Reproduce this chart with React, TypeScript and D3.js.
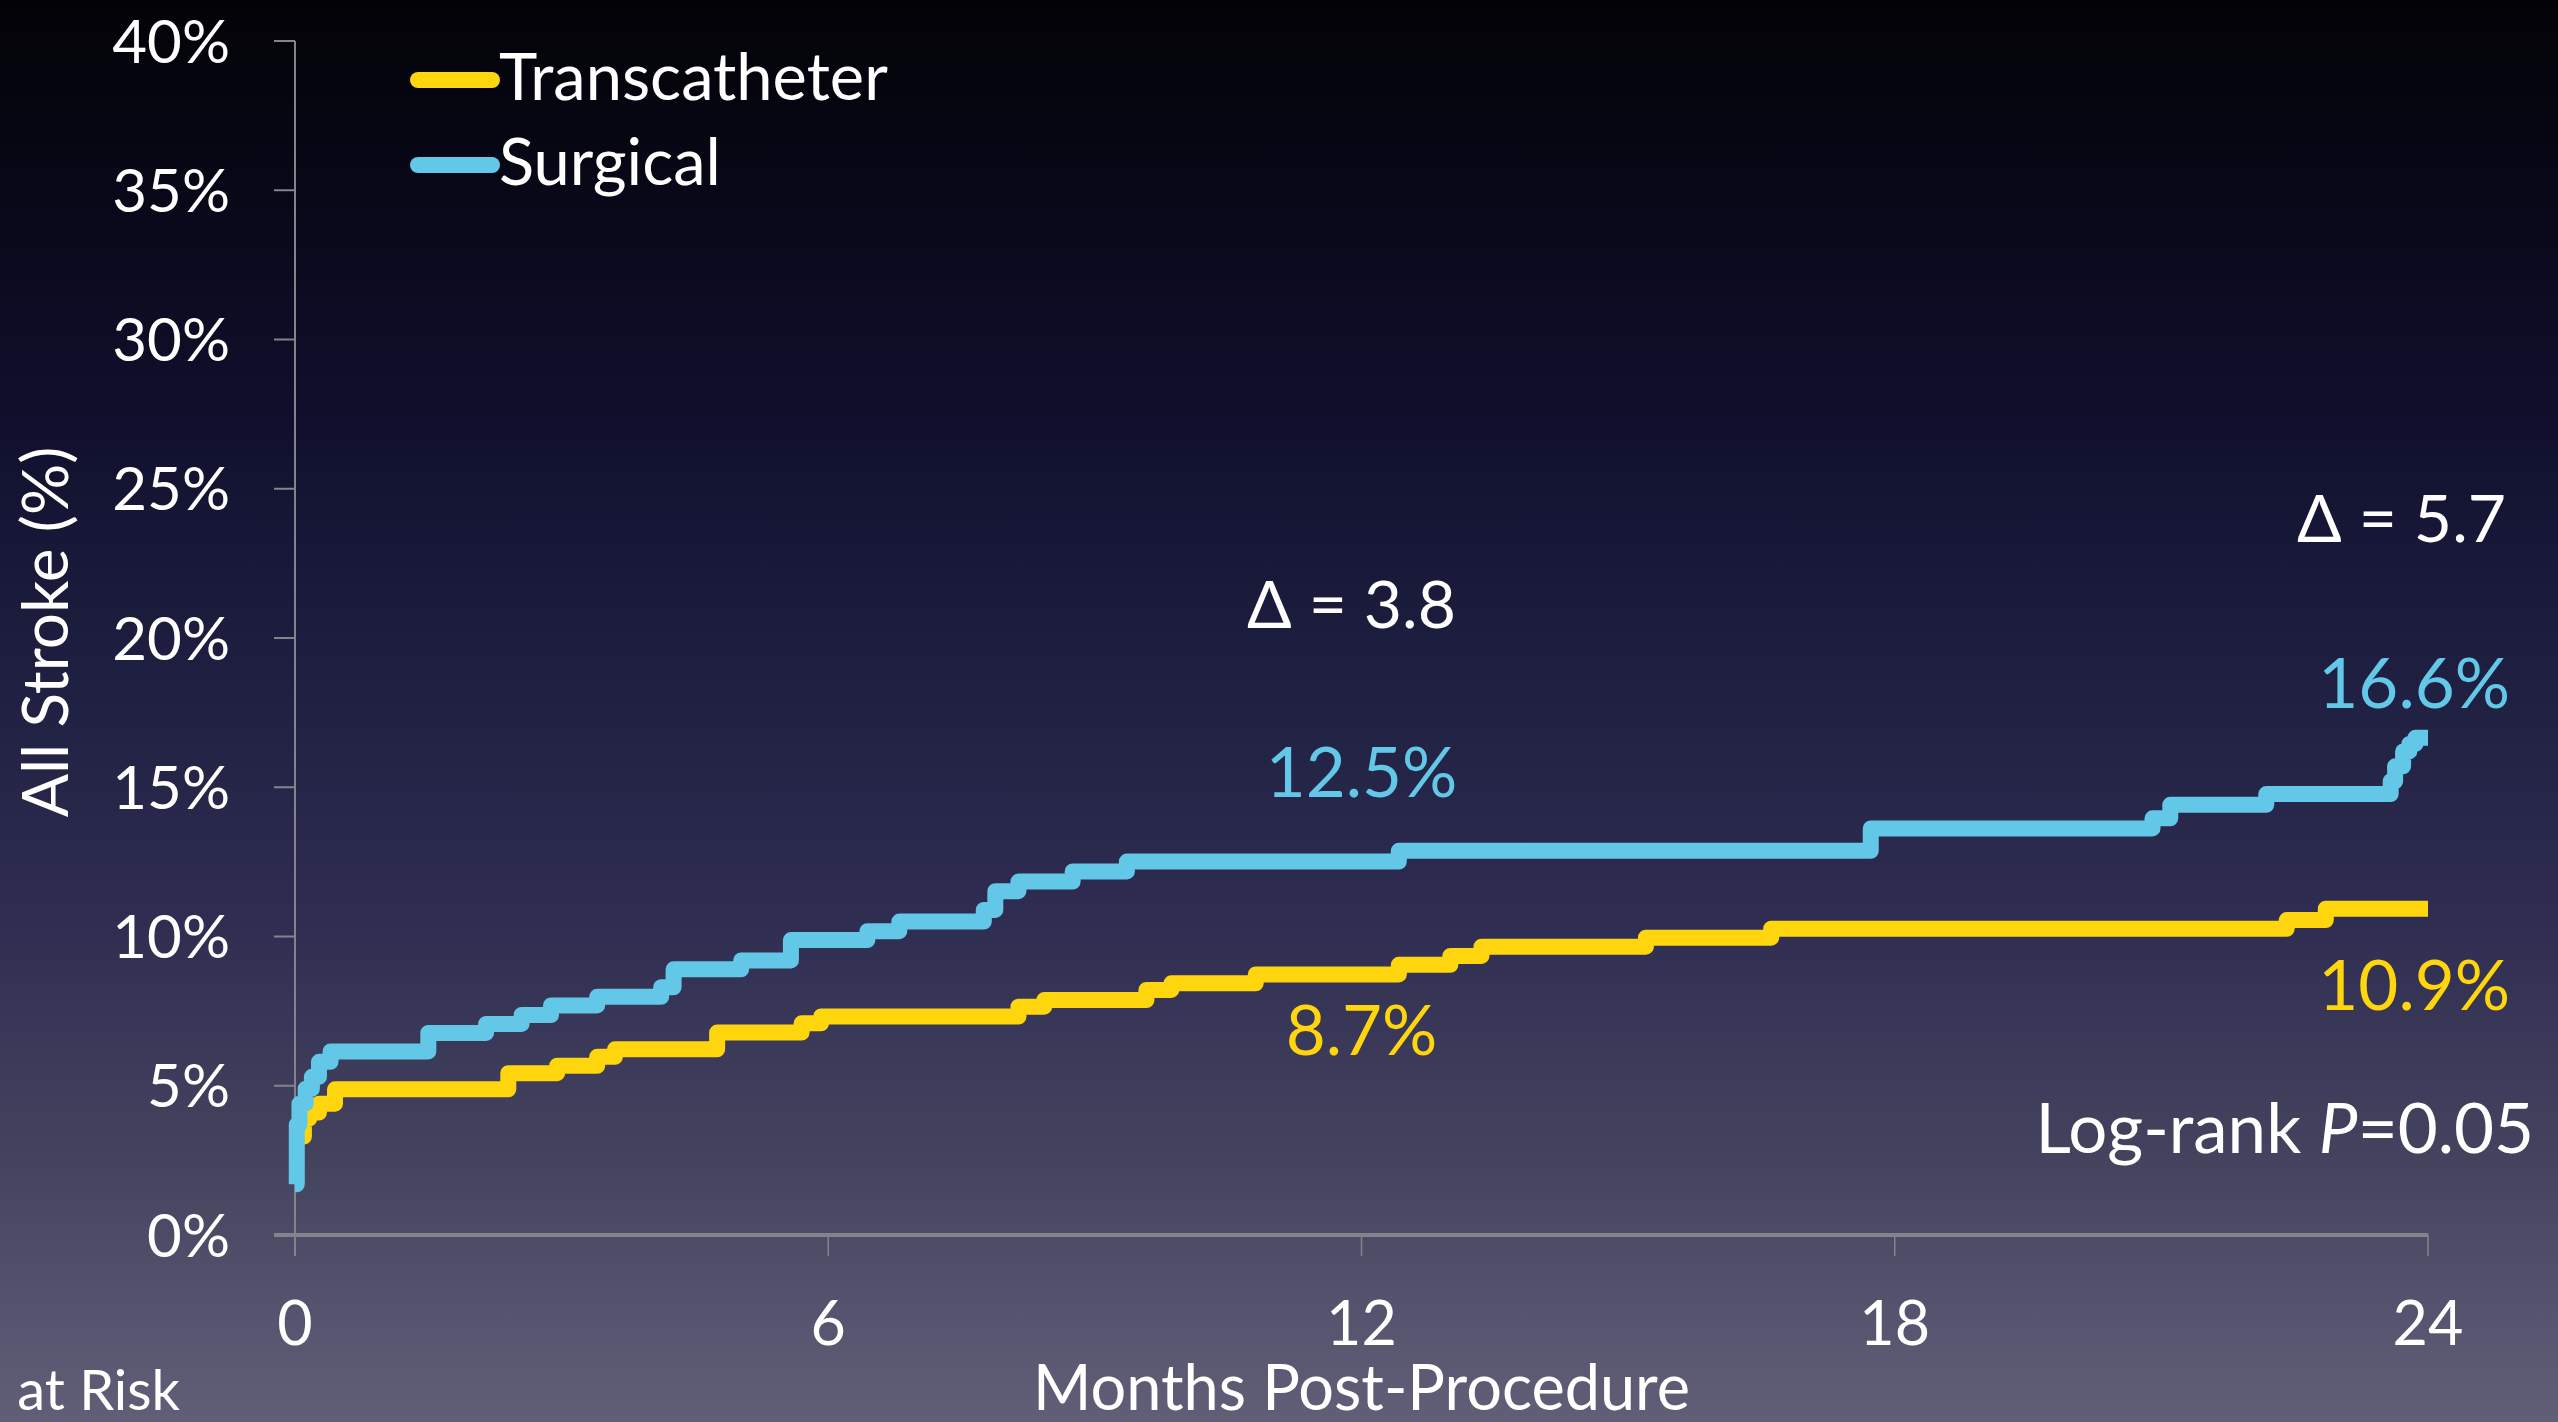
import * as d3 from 'd3'

// Kaplan-Meier style step data (months, cumulative % stroke)
const transcatheterMonths = [0, 0.1, 0.16, 0.27, 0.45, 2.4, 2.95, 3.4, 3.6, 4.75, 5.7, 5.92, 8.14, 8.43, 9.58, 9.86, 10.81, 12.42, 13.0, 13.35, 15.2, 16.61, 22.41, 22.85, 24]
const transcatheterRisk = [3.3, 3.9, 4.1, 4.4, 4.88, 5.42, 5.67, 5.97, 6.22, 6.78, 7.09, 7.32, 7.65, 7.87, 8.21, 8.43, 8.73, 9.05, 9.35, 9.66, 9.96, 10.26, 10.55, 10.93, 10.93]

const surgicalMonths = [0, 0.02, 0.05, 0.12, 0.19, 0.27, 0.4, 1.5, 2.15, 2.55, 2.88, 3.4, 4.12, 4.26, 5.02, 5.58, 6.44, 6.8, 7.75, 7.88, 8.14, 8.75, 9.36, 12.42, 17.73, 20.9, 21.1, 22.18, 23.58, 23.63, 23.72, 23.79, 23.86, 24]
const surgicalRisk = [1.7, 3.7, 4.4, 4.9, 5.3, 5.8, 6.15, 6.77, 7.07, 7.37, 7.69, 7.98, 8.3, 8.9, 9.2, 9.88, 10.18, 10.5, 10.89, 11.52, 11.84, 12.18, 12.51, 12.87, 13.62, 13.96, 14.41, 14.77, 15.2, 15.7, 16.2, 16.45, 16.66, 16.66]

const yTicks = [0, 5, 10, 15, 20, 25, 30, 35, 40]
const xTicks = [0, 6, 12, 18, 24]
const seriesNames = ['Transcatheter', 'Surgical']
const seriesColors = ['#FFD60E', '#63C8E7']

const W = 2558
const H = 1422
const FONT = 'Lato, "Open Sans", sans-serif'
const LABEL_SIZE = 63
const NOTE_SIZE = 69

export default function App() {
  const x = d3.scaleLinear().domain([0, 24]).range([295, 2428])
  const y = d3.scaleLinear().domain([0, 40]).range([1235, 41])

  const line = d3.line<[number, number]>()
    .x(d => x(d[0]))
    .y(d => y(d[1]))
    .curve(d3.curveStepAfter)

  const tavr = transcatheterMonths.map((m, i) => [m, transcatheterRisk[i]] as [number, number])
  const savr = surgicalMonths.map((m, i) => [m, surgicalRisk[i]] as [number, number])

  const axisColor = '#84838c'

  return (
    <div style={{ position: 'absolute', left: 0, top: 0 }}>
      <svg width={W} height={H} style={{ display: 'block' }}>
        <defs>
          <linearGradient id="bg" x1="0" y1="0" x2="0" y2="1">
            <stop offset="0" stopColor="#030307" />
            <stop offset="0.12" stopColor="#070716" />
            <stop offset="0.3" stopColor="#10102e" />
            <stop offset="0.5" stopColor="#212144" />
            <stop offset="0.65" stopColor="#2f2e52" />
            <stop offset="0.82" stopColor="#45445f" />
            <stop offset="1" stopColor="#615f78" />
          </linearGradient>
        </defs>
        <rect x={0} y={0} width={W} height={H} fill="url(#bg)" />

        {/* y axis */}
        <line x1={x(0)} x2={x(0)} y1={y(40)} y2={y(0) + 21} stroke={axisColor} strokeWidth={2} />
        {yTicks.map(t => (
          <g key={'y' + t}>
            <line x1={x(0) - 21} x2={x(0)} y1={y(t)} y2={y(t)} stroke={axisColor} strokeWidth={2} />
            <text x={230} y={y(t)} dy="0.36em" textAnchor="end" fill="#fff" fontFamily={FONT} fontSize={60}>
              {t + '%'}
            </text>
          </g>
        ))}

        {/* x axis */}
        <line x1={x(0) - 21} x2={x(24)} y1={y(0)} y2={y(0)} stroke={axisColor} strokeWidth={4} />
        {xTicks.map(t => (
          <g key={'x' + t}>
            <line x1={x(t)} x2={x(t)} y1={y(0)} y2={y(0) + 21} stroke={axisColor} strokeWidth={1.5} />
            <text x={x(t)} y={1345} textAnchor="middle" fill="#fff" fontFamily={FONT} fontSize={61}>
              {t}
            </text>
          </g>
        ))}

        <text x={(x(0) + x(24)) / 2} y={1410} textAnchor="middle" fill="#fff" fontFamily={FONT} fontSize={LABEL_SIZE}>
          Months Post-Procedure
        </text>
        <text x={180} y={1410} textAnchor="end" fill="#fff" fontFamily={FONT} fontSize={56}>
          No. at Risk
        </text>
        <text transform="translate(68,632) rotate(-90)" textAnchor="middle" fill="#fff" fontFamily={FONT} fontSize={64}>
          All Stroke (%)
        </text>

        {/* curves */}
        <path d={line(tavr) ?? ''} fill="none" stroke={seriesColors[0]} strokeWidth={16} strokeLinejoin="round" />
        <path d={line(savr) ?? ''} fill="none" stroke={seriesColors[1]} strokeWidth={16} strokeLinejoin="round" />

        {/* legend */}
        {seriesNames.map((name, i) => (
          <g key={name}>
            <line x1={418} x2={492} y1={80 + i * 85} y2={80 + i * 85} stroke={seriesColors[i]} strokeWidth={16} strokeLinecap="round" />
            <text x={499} y={100 + i * 85} fill="#fff" fontFamily={FONT} fontSize={65}>
              {name}
            </text>
          </g>
        ))}

        {/* annotations */}
        <text x={x(12) - 10} y={628} textAnchor="middle" fill="#fff" fontFamily={FONT} fontSize={66}>
          Δ = 3.8
        </text>
        <text x={2506} y={542} textAnchor="end" fill="#fff" fontFamily={FONT} fontSize={66}>
          Δ = 5.7
        </text>
        <text x={x(12)} y={797} textAnchor="middle" fill={seriesColors[1]} fontFamily={FONT} fontSize={NOTE_SIZE}>
          12.5%
        </text>
        <text x={x(12)} y={1055} textAnchor="middle" fill={seriesColors[0]} fontFamily={FONT} fontSize={NOTE_SIZE}>
          8.7%
        </text>
        <text x={2510} y={708} textAnchor="end" fill={seriesColors[1]} fontFamily={FONT} fontSize={NOTE_SIZE}>
          16.6%
        </text>
        <text x={2510} y={1010} textAnchor="end" fill={seriesColors[0]} fontFamily={FONT} fontSize={NOTE_SIZE}>
          10.9%
        </text>
        <text x={2534} y={1153} textAnchor="end" fill="#fff" fontFamily={FONT} fontSize={NOTE_SIZE}>
          Log-rank <tspan fontStyle="italic">P</tspan>=0.05
        </text>
      </svg>
    </div>
  )
}
